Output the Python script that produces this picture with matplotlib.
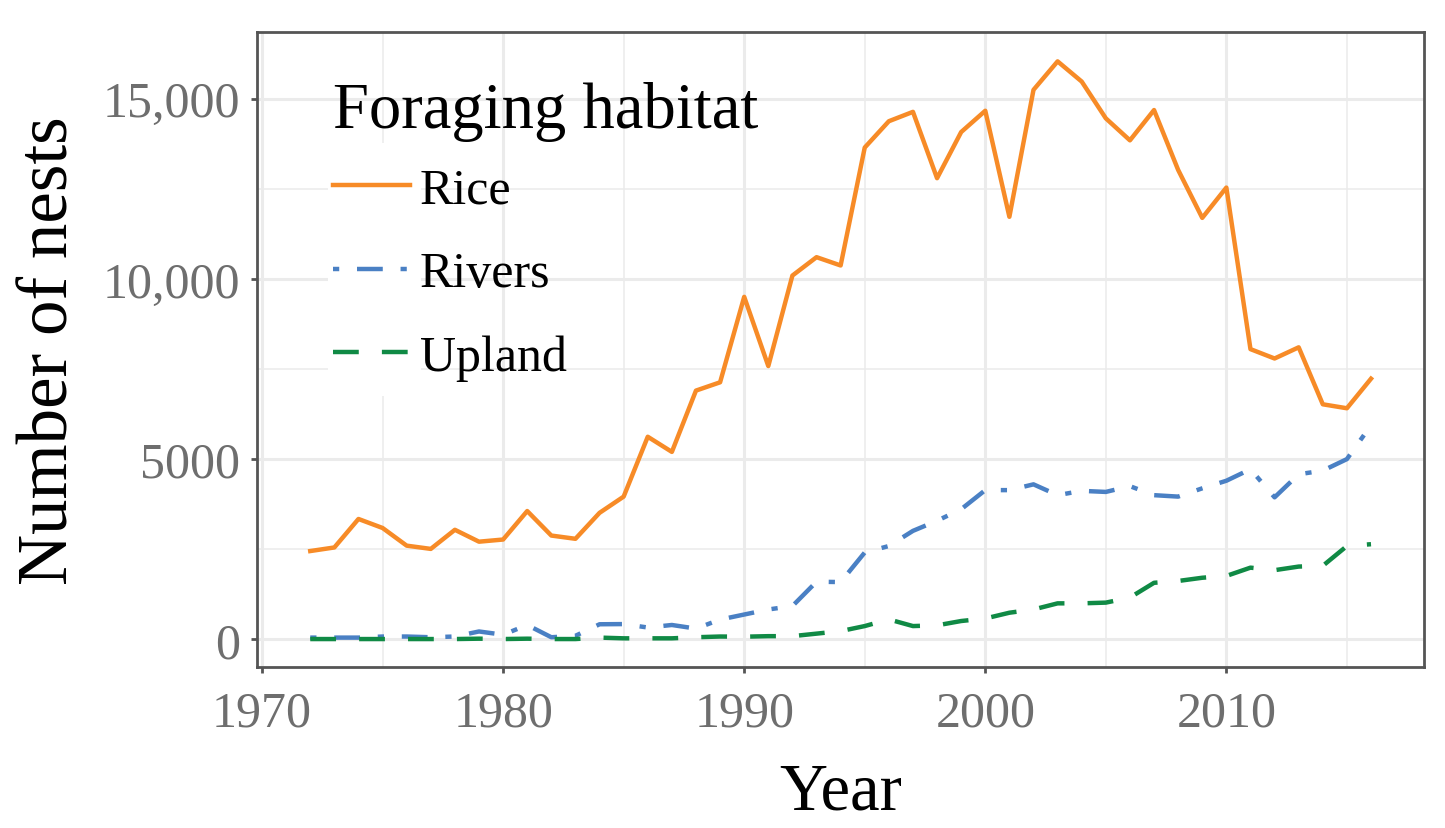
import matplotlib.pyplot as plt
from matplotlib.patches import Rectangle

years = list(range(1972, 2017))
rice = [2450, 2550, 3340, 3090, 2600, 2510, 3040, 2710, 2770, 3560,
        2880, 2790, 3510, 3960, 5620, 5200, 6900, 7130, 9500, 7580,
        10090, 10600, 10370, 13640, 14370, 14630, 12790, 14070, 14660, 11720,
        15240, 16030, 15470, 14450, 13840, 14680, 13020, 11690, 12530, 8050,
        7790, 8100, 6520, 6410, 7230]
rivers = [50, 50, 50, 80, 80, 60, 80, 220, 130, 400,
          60, 100, 420, 425, 330, 400, 300, 550, 690, 830,
          925, 1600, 1590, 2410, 2590, 3010, 3290, 3610, 4140, 4140,
          4300, 4000, 4120, 4090, 4250, 4000, 3960, 4190, 4400, 4720,
          3940, 4580, 4680, 5000, 5940]
upland = [10, 10, 10, 10, 10, 10, 10, 20, 10, 20,
          10, 10, 50, 30, 30, 30, 60, 80, 75, 90,
          90, 160, 230, 370, 555, 370, 390, 510, 580, 740,
          830, 1000, 1000, 1020, 1160, 1570, 1620, 1710, 1760, 1990,
          1920, 2020, 2040, 2590, 2640]

xticks = [1970, 1980, 1990, 2000, 2010]
yticks = [0, 5000, 10000, 15000]
ytick_labels = ['0', '5000', '10,000', '15,000']

plt.rcParams['font.family'] = ['Liberation Serif', 'DejaVu Serif']

fig = plt.figure(figsize=(14.45, 8.29), dpi=100)
ax = fig.add_axes([0.178, 0.194, 0.8075, 0.766])

# grid like theme_bw
ax.set_xticks([1975, 1985, 1995, 2005, 2015], minor=True)
ax.set_yticks([2500, 7500, 12500], minor=True)
ax.grid(True, which='major', color='#EBEBEB', linewidth=2.2, zorder=0)
ax.grid(True, which='minor', color='#EBEBEB', linewidth=1.1, zorder=0)
ax.set_axisbelow(True)

lw = 3.2
ax.plot(years, rice, color='#F78B27', linewidth=lw, label='Rice', zorder=3)
ax.plot(years, rivers, color='#4A80C4', linewidth=lw, label='Rivers',
        dashes=(1.4, 4.0, 5.8, 4.0), dash_capstyle='butt', zorder=3)
ax.plot(years, upland, color='#108A45', linewidth=lw, label='Upland',
        dashes=(5.8, 5.2), dash_capstyle='butt', zorder=3)

ax.set_xlim(1969.8, 2018.2)
ax.set_ylim(-770, 16840)
ax.set_xticks(xticks)
ax.set_yticks(yticks)
ax.set_yticklabels(ytick_labels)
ax.tick_params(axis='both', which='major', labelsize=36, labelcolor='#6E6E6E',
               color='#555555', length=4.5, width=2, pad=8)
ax.tick_params(axis='x', which='major', pad=12)
ax.tick_params(axis='both', which='minor', length=0)
for s in ax.spines.values():
    s.set_color('#555555')
    s.set_linewidth(2)

ax.set_xlabel('Year', fontsize=48, labelpad=18)
ax.set_ylabel('Number of nests', fontsize=51, labelpad=14)

# white key boxes behind legend keys
ax.add_patch(Rectangle((0.061, 0.427), 0.079, 0.398, transform=ax.transAxes,
                       facecolor='white', edgecolor='none', zorder=1))

leg = ax.legend(title='Foraging habitat', loc='upper left', frameon=False,
                fontsize=36, title_fontsize=46.5, handlelength=1.55,
                labelspacing=0.74, handletextpad=0.2,
                bbox_to_anchor=(0.026, 0.994))
leg._legend_box.align = 'left'
leg._legend_box.sep = 19  # tighter gap under the title

fig.savefig('out.png', dpi=100)
